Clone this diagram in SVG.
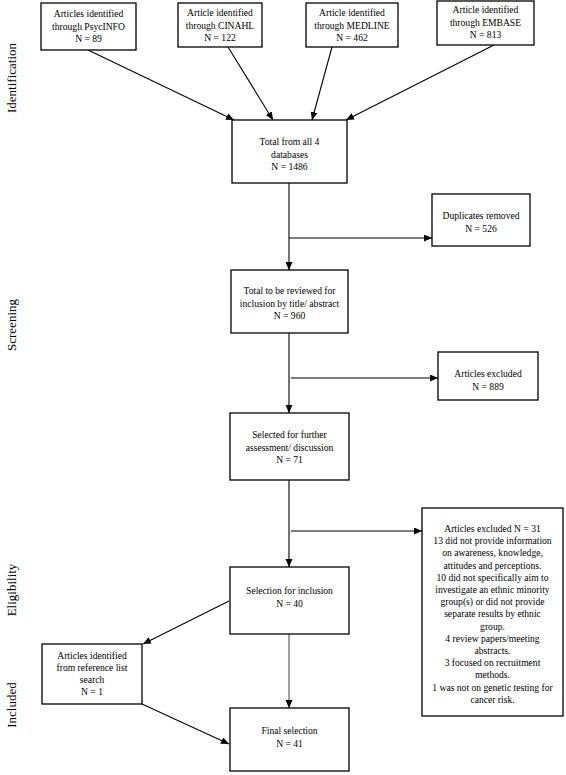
<svg xmlns="http://www.w3.org/2000/svg" width="566" height="775" viewBox="0 0 566 775">
<style>
.box{fill:#fff;stroke:#000;stroke-width:1.3}
.t{font-family:"Liberation Serif","Times New Roman",serif;font-size:9.6px;fill:#000;text-anchor:middle}
.side{font-family:"Liberation Serif","Times New Roman",serif;font-size:13px;fill:#000;text-anchor:middle}
.c{stroke:#000;stroke-width:1.1;fill:none;marker-end:url(#ah)}
</style>
<defs>
<marker id="ah" markerUnits="userSpaceOnUse" markerWidth="9" markerHeight="8" refX="8" refY="3.5" orient="auto">
<path d="M0,0 L8,3.5 L0,7 z" fill="#000"/>
</marker>
</defs>
<rect width="566" height="775" fill="#fff"/>
<g id="labels">
<text class="side" transform="translate(16,78) rotate(-90)">Identification</text>
<text class="side" transform="translate(16,325) rotate(-90)">Screening</text>
<text class="side" transform="translate(16,590) rotate(-90)">Eligibility</text>
<text class="side" transform="translate(16,705) rotate(-90)">Included</text>
</g>
<g id="connectors">
<line class="c" x1="88" y1="50" x2="234" y2="120"/>
<line class="c" x1="228" y1="47" x2="273" y2="120"/>
<line class="c" x1="332" y1="47" x2="312" y2="120"/>
<line class="c" x1="494" y1="45" x2="346" y2="120"/>
<line class="c" x1="289" y1="183" x2="289" y2="270"/>
<line class="c" x1="289" y1="238" x2="432" y2="238"/>
<line class="c" x1="289" y1="333" x2="289" y2="413"/>
<line class="c" x1="291" y1="378" x2="438" y2="378"/>
<line class="c" x1="289" y1="480" x2="289" y2="567"/>
<line class="c" x1="291" y1="531" x2="422" y2="531"/>
<line class="c" x1="229" y1="601" x2="143" y2="644"/>
<line class="c" x1="289" y1="634" x2="289" y2="708" style="stroke:#555"/>
<line class="c" x1="142" y1="704" x2="229" y2="744"/>
</g>
<g id="psycinfo">
<rect class="box" x="41" y="3" width="95" height="47"/>
<text class="t" x="88.5" y="17">Articles identified</text>
<text class="t" x="88.5" y="29.5">through PsycINFO</text>
<text class="t" x="88.5" y="42">N = 89</text>
</g>
<g id="cinahl">
<rect class="box" x="178" y="3" width="84" height="44"/>
<text class="t" x="220" y="16">Article identified</text>
<text class="t" x="220" y="28.5">through CINAHL</text>
<text class="t" x="220" y="41">N = 122</text>
</g>
<g id="medline">
<rect class="box" x="306" y="3" width="92" height="44"/>
<text class="t" x="352" y="16">Article identified</text>
<text class="t" x="352" y="28.5">through MEDLINE</text>
<text class="t" x="352" y="41">N = 462</text>
</g>
<g id="embase">
<rect class="box" x="437" y="1" width="97" height="44"/>
<text class="t" x="485.5" y="13">Article identified</text>
<text class="t" x="485.5" y="25.5">through EMBASE</text>
<text class="t" x="485.5" y="38">N = 813</text>
</g>
<g id="total">
<rect class="box" x="232" y="120" width="115" height="63"/>
<text class="t" x="289.5" y="145">Total from all 4</text>
<text class="t" x="289.5" y="157.5">databases</text>
<text class="t" x="289.5" y="170">N = 1486</text>
</g>
<g id="duplicates">
<rect class="box" x="432" y="194" width="98" height="52"/>
<text class="t" x="481" y="219">Duplicates removed</text>
<text class="t" x="481" y="231.5">N = 526</text>
</g>
<g id="screened">
<rect class="box" x="231" y="270" width="117" height="63"/>
<text class="t" x="289.5" y="294">Total to be reviewed for</text>
<text class="t" x="289.5" y="306.5">inclusion by title/ abstract</text>
<text class="t" x="289.5" y="319">N = 960</text>
</g>
<g id="excluded889">
<rect class="box" x="438" y="352" width="100" height="48"/>
<text class="t" x="488" y="377">Articles excluded</text>
<text class="t" x="488" y="389.5">N = 889</text>
</g>
<g id="selected71">
<rect class="box" x="230" y="413" width="119" height="67"/>
<text class="t" x="289.5" y="438">Selected for further</text>
<text class="t" x="289.5" y="450.5">assessment/ discussion</text>
<text class="t" x="289.5" y="463">N = 71</text>
</g>
<g id="excluded31">
<rect class="box" x="422" y="508" width="141" height="208"/>
<text class="t" x="492.5" y="532">Articles excluded N = 31</text>
<text class="t" x="492.5" y="544.2">13 did not provide information</text>
<text class="t" x="492.5" y="556.4">on awareness, knowledge,</text>
<text class="t" x="492.5" y="568.6">attitudes and perceptions.</text>
<text class="t" x="492.5" y="580.8">10 did not specifically aim to</text>
<text class="t" x="492.5" y="593">investigate an ethnic minority</text>
<text class="t" x="492.5" y="605.2">group(s) or did not provide</text>
<text class="t" x="492.5" y="617.4">separate results by ethnic</text>
<text class="t" x="492.5" y="629.6">group.</text>
<text class="t" x="492.5" y="641.8">4 review papers/meeting</text>
<text class="t" x="492.5" y="654">abstracts.</text>
<text class="t" x="492.5" y="666.2">3 focused on recruitment</text>
<text class="t" x="492.5" y="678.4">methods.</text>
<text class="t" x="492.5" y="690.6">1 was not on genetic testing for</text>
<text class="t" x="492.5" y="702.8">cancer risk.</text>
</g>
<g id="inclusion40">
<rect class="box" x="230" y="567" width="119" height="67"/>
<text class="t" x="289.5" y="594">Selection for inclusion</text>
<text class="t" x="289.5" y="606.5">N = 40</text>
</g>
<g id="reference">
<rect class="box" x="42" y="644" width="100" height="60"/>
<text class="t" x="92" y="659">Articles identified</text>
<text class="t" x="92" y="671">from reference list</text>
<text class="t" x="92" y="683">search</text>
<text class="t" x="92" y="695">N = 1</text>
</g>
<g id="final">
<rect class="box" x="230" y="708" width="119" height="63"/>
<text class="t" x="289.5" y="734">Final selection</text>
<text class="t" x="289.5" y="746.5">N = 41</text>
</g>
</svg>
